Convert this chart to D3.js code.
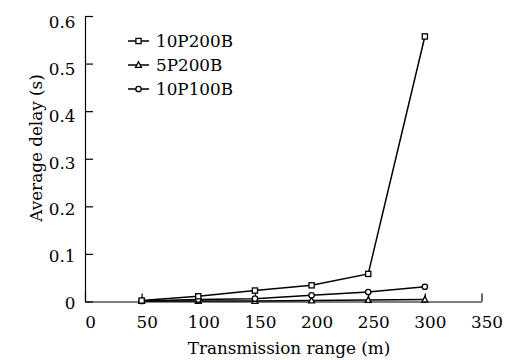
<!DOCTYPE html>
<html>
<head>
<meta charset="utf-8">
<script src="https://cdn.jsdelivr.net/npm/d3@7"></script>
<style>
  body { margin: 0; background: #fff; }
</style>
</head>
<body>
<div id="chart"></div>
<script>
// data
var ranges = [50, 100, 150, 200, 250, 300];
var delay10P200B = [0.002, 0.011, 0.023, 0.034, 0.058, 0.557];
var delay5P200B = [0.001, 0.001, 0.001, 0.002, 0.003, 0.004];
var delay10P100B = [0.001, 0.004, 0.006, 0.013, 0.020, 0.031];
var seriesNames = ["10P200B", "5P200B", "10P100B"];
var xTicks = [0, 50, 100, 150, 200, 250, 300, 350];
var yTicks = [0, 0.1, 0.2, 0.3, 0.4, 0.5, 0.6];

var width = 508, height = 360;
var fontSize = 16;
var fontFamily = "'DejaVu Serif', serif";
var stretch = 1.05; // text in the figure is a bit wide

var svg = d3.select("#chart").append("svg")
    .attr("width", width)
    .attr("height", height)
    .attr("font-family", fontFamily);

var x = d3.scaleLinear().domain([0, 350]).range([85, 481.5]);
var y = d3.scaleLinear().domain([0, 0.6]).range([301.5, 16]);
// tick labels sit a little off their ticks in the original
var yLabel = d3.scaleLinear().domain([0, 0.6]).range([303, 22]);

// x axis, ticks pointing up
var gx = svg.append("g")
    .attr("transform", "translate(0," + y(0) + ")")
    .call(d3.axisBottom(x).tickValues(xTicks).tickSizeInner(-8).tickSizeOuter(0).tickFormat(d3.format("d")));
gx.attr("font-family", fontFamily);
gx.select(".domain").attr("stroke", "#000").attr("stroke-width", 1.2);
gx.selectAll("line").attr("stroke", "#000").attr("stroke-width", 1.2);
gx.selectAll("text")
    .attr("dy", null)
    .attr("y", 27)
    .attr("fill", "#000")
    .attr("font-size", fontSize)
    .attr("transform", "translate(5,0) scale(" + stretch + ",1)");

// y axis, ticks pointing right
var gy = svg.append("g")
    .attr("transform", "translate(" + x(0) + ",0)")
    .call(d3.axisLeft(y).tickValues(yTicks).tickSizeInner(-8).tickSizeOuter(0).tickPadding(9)
        .tickFormat(function(d) { return d === 0 ? "0" : d3.format(".1f")(d); }));
gy.attr("font-family", fontFamily);
gy.select(".domain").attr("stroke", "#000").attr("stroke-width", 1.2);
gy.selectAll("line").attr("stroke", "#000").attr("stroke-width", 1.2);
gy.selectAll(".tick text")
    .attr("dy", "0.35em")
    .attr("y", function(d) { return yLabel(d) - y(d); })
    .attr("fill", "#000")
    .attr("font-size", fontSize)
    .attr("transform", "scale(" + stretch + ",1)");

// axis titles
svg.append("text")
    .attr("text-anchor", "middle")
    .attr("font-size", fontSize)
    .attr("transform", "translate(289,354) scale(" + stretch + ",1)")
    .text("Transmission range (m)");

svg.append("text")
    .attr("text-anchor", "middle")
    .attr("font-size", fontSize)
    .attr("transform", "translate(42,148) rotate(-90) scale(" + stretch + ",1)")
    .text("Average delay (s)");

// series
var allSeries = [delay10P200B, delay5P200B, delay10P100B];
var markers = ["square", "triangle", "circle"];

var line = d3.line()
    .x(function(d, i) { return x(ranges[i]); })
    .y(function(d) { return y(d); });

function drawMarker(g, kind) {
    if (kind === "square") {
        g.append("rect").attr("x", -2.6).attr("y", -2.6).attr("width", 5.2).attr("height", 5.2);
    } else if (kind === "triangle") {
        g.append("path").attr("d", "M0,-3.2L3,2.4L-3,2.4Z");
    } else {
        g.append("circle").attr("r", 2.7);
    }
    g.selectAll("*").attr("fill", "#fff").attr("stroke", "#000").attr("stroke-width", 1.3);
}

// draw from bottom series up so the top line stays on top
[1, 2, 0].forEach(function(s) {
    svg.append("path")
        .datum(allSeries[s])
        .attr("fill", "none")
        .attr("stroke", "#000")
        .attr("stroke-width", 1.5)
        .attr("d", line);
});
[1, 2, 0].forEach(function(s) {
    allSeries[s].forEach(function(v, i) {
        var g = svg.append("g").attr("transform", "translate(" + x(ranges[i]) + "," + y(v) + ")");
        drawMarker(g, markers[s]);
    });
});

// legend
var legendY = d3.scalePoint().domain(seriesNames).range([41, 89]);
seriesNames.forEach(function(name, i) {
    var ly = legendY(name);
    svg.append("line")
        .attr("x1", 128).attr("x2", 149)
        .attr("y1", ly).attr("y2", ly)
        .attr("stroke", "#000").attr("stroke-width", 1.5);
    var g = svg.append("g").attr("transform", "translate(138.5," + ly + ")");
    drawMarker(g, markers[i]);
    svg.append("text")
        .attr("font-size", fontSize)
        .attr("dy", "0.35em")
        .attr("transform", "translate(156," + ly + ") scale(" + stretch + ",1)")
        .text(name);
});
</script>
</body>
</html>
